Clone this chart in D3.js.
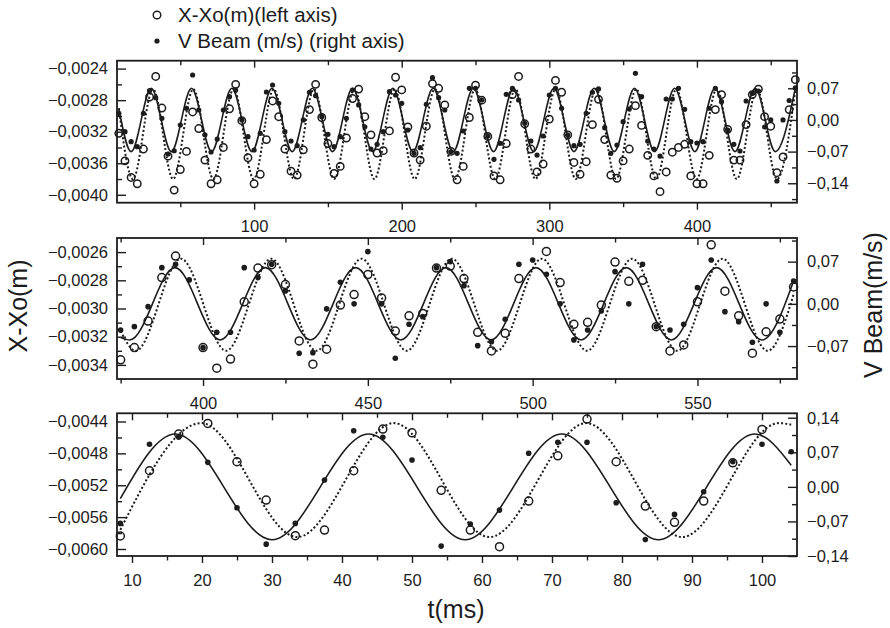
<!DOCTYPE html>
<html>
<head>
<meta charset="utf-8">
<script src="https://cdn.jsdelivr.net/npm/d3@7"></script>
<style>
  body { margin: 0; background: #fff; }
  svg { display: block; font-family: "Liberation Sans", Arial, sans-serif; }
</style>
</head>
<body>
<svg id="chart" width="890" height="628"></svg>
<script>
// ---- top panel (t = 8..467 ms) ----
const topT = [8.33, 12.5, 16.67, 20.83, 25, 29.17, 33.33, 37.5, 41.67, 45.83,
  50, 54.17, 58.33, 62.5, 66.67, 70.83, 75, 79.17, 83.33, 87.5,
  91.67, 95.83, 100, 104.17, 108.33, 112.5, 116.67, 120.83, 125, 129.17,
  133.33, 137.5, 141.67, 145.83, 150, 154.17, 158.33, 162.5, 166.67, 170.83,
  175, 179.17, 183.33, 187.5, 191.67, 195.83, 200, 204.17, 208.33, 212.5,
  216.67, 220.83, 225, 229.17, 233.33, 237.5, 241.67, 245.83, 250, 254.17,
  258.33, 262.5, 266.67, 270.83, 275, 279.17, 283.33, 287.5, 291.67, 295.83,
  300, 304.17, 308.33, 312.5, 316.67, 320.83, 325, 329.17, 333.33, 337.5,
  341.67, 345.83, 350, 354.17, 358.33, 362.5, 366.67, 370.83, 375, 379.17,
  383.33, 387.5, 391.67, 395.83, 400, 404.17, 408.33, 412.5, 416.67, 420.83,
  425, 429.17, 433.33, 437.5, 441.67, 445.83, 450, 454.17, 458.33, 462.5,
  466.67];
const topXo = [-0.00322, -0.00357, -0.00378, -0.00386, -0.00342, -0.00276, -0.00250, -0.00290, -0.00351, -0.00394,
  -0.00368, -0.00345, -0.00295, -0.00316, -0.00356, -0.00386, -0.00381, -0.00340, -0.00291, -0.00260,
  -0.00306, -0.00353, -0.00386, -0.00374, -0.00330, -0.00281, -0.00301, -0.00342, -0.00370, -0.00375,
  -0.00343, -0.00292, -0.00260, -0.00302, -0.00335, -0.00373, -0.00364, -0.00328, -0.00278, -0.00266,
  -0.00301, -0.00324, -0.00347, -0.00344, -0.00319, -0.00251, -0.00267, -0.00314, -0.00347, -0.00356,
  -0.00313, -0.00259, -0.00265, -0.00286, -0.00345, -0.00381, -0.00364, -0.00302, -0.00261, -0.00280,
  -0.00326, -0.00376, -0.00381, -0.00335, -0.00273, -0.00250, -0.00310, -0.00342, -0.00371, -0.00361,
  -0.00304, -0.00255, -0.00270, -0.00324, -0.00359, -0.00374, -0.00358, -0.00311, -0.00279, -0.00330,
  -0.00375, -0.00379, -0.00357, -0.00342, -0.00287, -0.00312, -0.00350, -0.00376, -0.00396, -0.00371,
  -0.00346, -0.00340, -0.00336, -0.00376, -0.00386, -0.00386, -0.00350, -0.00292, -0.00273, -0.00317,
  -0.00356, -0.00356, -0.00311, -0.00273, -0.00266, -0.00301, -0.00313, -0.00372, -0.00352, -0.00292,
  -0.00254];
const topV = [0.0147, -0.0260, -0.0481, -0.0592, 0.0147, 0.0647, 0.0492, 0.0036, -0.0754, -0.0681,
  -0.0112, 0.0258, 0.0994, 0.0220, -0.0327, -0.0709, -0.0422, 0.0220, 0.0514, 0.0662,
  0.0000, -0.0371, -0.0665, -0.0296, 0.0618, 0.0773, 0.0368, -0.0260, -0.0466, -0.0570,
  0.0000, 0.0612, 0.0536, 0.0072, -0.0318, -0.0592, -0.0371, 0.0036, 0.0662, 0.0331,
  -0.0150, -0.0643, -0.0539, -0.0260, 0.0625, 0.0552, 0.0368, -0.0223, -0.0738, -0.0614,
  0.0346, 0.0935, 0.0492, 0.0220, -0.0703, -0.0738, -0.0245, 0.0700, 0.0700, 0.0441,
  -0.0355, -0.0871, -0.0517, 0.0567, 0.0700, 0.0441, -0.0074, -0.0466, -0.0776, -0.0355,
  0.0552, 0.0700, 0.0258, -0.0333, -0.0570, -0.0539, 0.0147, 0.0612, 0.0685, -0.0172,
  -0.0738, -0.0554, -0.0039, 0.0242, 0.1032, 0.0514, -0.0466, -0.0643, -0.0798, 0.0463,
  0.0463, 0.0700, 0.0235, -0.0481, -0.0510, -0.0481, 0.0258, 0.0700, 0.0404, -0.0223,
  -0.0539, -0.0687, 0.0419, 0.0585, 0.0640, -0.0156, 0.0000, -0.1350, 0.0000, 0.0430,
  0.0707];
// fitted curves, read at their ends and turning points
const topFitVT = [8.33, 16.7, 30.3, 43.9, 57.6, 71.2, 84.9, 98.5, 112.1, 125.8, 139.4, 153.1,
  166.7, 180.3, 194.0, 207.6, 221.3, 234.9, 248.5, 262.2, 275.8, 289.4, 303.1, 316.7,
  330.4, 344.0, 357.7, 371.3, 384.9, 398.6, 412.2, 425.8, 439.5, 453.1, 466.67];
const topFitV = [0.025, -0.07, 0.07, -0.07, 0.07, -0.07, 0.07, -0.07, 0.07, -0.07, 0.07, -0.07,
  0.07, -0.07, 0.07, -0.07, 0.07, -0.07, 0.07, -0.07, 0.07, -0.07, 0.07, -0.07,
  0.07, -0.07, 0.07, -0.07, 0.07, -0.07, 0.07, -0.07, 0.07, -0.07, 0.07];
const topFitXoT = [8.33, 17.9, 31.5, 45.1, 58.8, 72.4, 86.1, 99.7, 113.3, 127.0, 140.6, 154.3,
  167.9, 181.5, 195.2, 208.8, 222.5, 236.1, 249.7, 263.4, 277.0, 290.6, 304.3, 317.9,
  331.6, 345.2, 358.9, 372.5, 386.1, 399.8, 413.4, 427.0, 440.7, 454.3, 466.67];
const topFitXo = [-0.00290, -0.00380, -0.00266, -0.00380, -0.00266, -0.00380, -0.00266, -0.00380, -0.00266, -0.00380, -0.00266, -0.00380,
  -0.00266, -0.00380, -0.00266, -0.00380, -0.00266, -0.00380, -0.00266, -0.00380, -0.00266, -0.00380, -0.00266, -0.00380,
  -0.00266, -0.00380, -0.00266, -0.00380, -0.00266, -0.00380, -0.00266, -0.00380, -0.00266, -0.00380, -0.00267];

// ---- middle panel (t = 375..579 ms) ----
const midT = [375, 379.17, 383.33, 387.5, 391.67, 395.83, 400, 404.17, 408.33, 412.5,
  416.67, 420.83, 425, 429.17, 433.33, 437.5, 441.67, 445.83, 450, 454.17,
  458.33, 462.5, 466.67, 470.83, 475, 479.17, 483.33, 487.5, 491.67, 495.83,
  500, 504.17, 508.33, 512.5, 516.67, 520.83, 525, 529.17, 533.33, 537.5,
  541.67, 545.83, 550, 554.17, 558.33, 562.5, 566.67, 570.83, 575, 579.17];
const midXo = [-0.003364, -0.003277, -0.003089, -0.002781, -0.002628, null, -0.003277, -0.003423, -0.003359, -0.002953,
  -0.002713, -0.002689, -0.002830, -0.003230, -0.003395, -0.003289, -0.002976, -0.002901, -0.002759, -0.002925,
  -0.003160, -0.003052, -0.003035, -0.002713, -0.002699, -0.002788, -0.003169, -0.003301, -0.003176, -0.002788,
  null, -0.002595, -0.002816, -0.003112, -0.003098, -0.002976, -0.002671, -0.002807, -0.002800, -0.003129,
  -0.003301, -0.003258, -0.002953, -0.002548, -0.002877, -0.003052, -0.003317, -0.003165, -0.003075, -0.002847];
const midV = [-0.0433, -0.0378, -0.0046, 0.0600, 0.0657, 0.0397, -0.0726, -0.0471, -0.0471, 0.0600,
  0.0435, 0.0657, 0.0214, -0.0819, -0.0809, -0.0084, 0.0358, 0.0000, 0.0866, 0.0000,
  -0.0902, -0.0338, -0.0212, 0.0600, 0.0700, 0.0302, -0.0693, -0.0627, -0.0255, 0.0657,
  0.0728, 0.0491, 0.0000, -0.0598, -0.0433, -0.0118, 0.0534, 0.0000, 0.0657, -0.0378,
  -0.0433, -0.0338, 0.0269, 0.0728, -0.0129, -0.0295, -0.0637, 0.0000, -0.0471, 0.0380];
const midFitVT = [375, 377.8, 391.5, 405.2, 418.9, 432.6, 446.3, 460.0, 473.7, 487.4, 501.0, 514.7, 528.4, 542.1, 555.8, 569.5, 579.17];
const midFitV = [-0.056, -0.06, 0.06, -0.06, 0.06, -0.06, 0.06, -0.06, 0.06, -0.06, 0.06, -0.06, 0.06, -0.06, 0.06, -0.06, 0.038];
const midFitXoT = [375, 379.6, 393.3, 407.0, 420.7, 434.4, 448.1, 461.8, 475.5, 489.2, 502.8, 516.5, 530.2, 543.9, 557.6, 571.3, 579.17];
const midFitXo = [-0.00316, -0.00330, -0.002647, -0.00330, -0.002647, -0.00330, -0.002647, -0.00330, -0.002647,
  -0.00330, -0.002647, -0.00330, -0.002647, -0.00330, -0.002647, -0.00330, -0.00290];

// ---- bottom panel (t = 8..104 ms) ----
const botT = [8.33, 12.5, 16.67, 20.83, 25, 29.17, 33.33, 37.5, 41.67, 45.83, 50, 54.17,
  58.33, 62.5, 66.67, 70.83, 75, 79.17, 83.33, 87.5, 91.67, 95.83, 100, 104.17];
const botXo = [-0.005837, -0.005018, -0.004558, -0.004424, -0.004905, -0.005386, -0.005833, -0.005762, -0.005018, -0.004495, -0.004542, -0.005264,
  -0.005762, -0.005971, -0.005398, -0.004830, -0.004370, -0.004905, -0.005461, -0.005665, -0.005398, -0.004918, -0.004499, null];
const botV = [-0.0740, 0.0862, 0.1004, 0.0497, -0.0424, -0.1160, -0.0740, 0.0138, 0.1138, 0.1004, 0.0544, -0.1200,
  -0.0754, -0.0470, 0.0680, 0.0903, 0.0903, -0.0322, -0.1065, -0.0558, -0.0099, 0.0509, 0.0862, 0.0712];
const botFitVT = [8.33, 16.2, 30.0, 43.8, 57.6, 71.4, 85.2, 99.0, 104.17];
const botFitV = [-0.024, 0.107, -0.107, 0.107, -0.107, 0.107, -0.107, 0.107, 0.044];
const botFitXoT = [8.33, 19.9, 33.6, 47.4, 61.1, 74.9, 88.6, 102.4, 104.17];
const botFitXo = [-0.00576, -0.00442, -0.00585, -0.00442, -0.00585, -0.00442, -0.00585, -0.00442, -0.00444];

// ---- tick values ----
const topXMajor = [100, 200, 300, 400], topXMinor = [50, 150, 250, 350, 450];
const midXMajor = [400, 450, 500, 550], midXMinor = [375, 425, 475, 525, 575];
const botXMajor = [10, 20, 30, 40, 50, 60, 70, 80, 90, 100], botXMinor = [15, 25, 35, 45, 55, 65, 75, 85, 95];
const topLMajor = [-0.0024, -0.0028, -0.0032, -0.0036, -0.0040], topLMinor = [-0.0026, -0.0030, -0.0034, -0.0038];
const midLMajor = [-0.0026, -0.0028, -0.0030, -0.0032, -0.0034], midLMinor = [-0.0027, -0.0029, -0.0031, -0.0033];
const botLMajor = [-0.0044, -0.0048, -0.0052, -0.0056, -0.0060], botLMinor = [-0.0046, -0.0050, -0.0054, -0.0058];
const topRMajor = [0.07, 0, -0.07, -0.14], topRMinor = [0.105, 0.035, -0.035, -0.105, -0.175];
const midRMajor = [0.07, 0, -0.07], midRMinor = [0.105, 0.035, -0.035, -0.105];
const botRMajor = [0.14, 0.07, 0, -0.07, -0.14], botRMinor = [0.105, 0.035, -0.035, -0.105];

const locale = d3.formatLocale({ decimal: ",", thousands: ".", grouping: [3], currency: ["", ""] });
const fmtL = locale.format(".4f"), fmtR = locale.format(".2f"), fmtX = locale.format("d");

const ink = "#1c1c1c";
const left = 117, right = 797;

const panels = [
  { top: 60.7, height: 142, x: [7.1, 467.8], yL: [-0.0041, -0.0023], yR: [-0.183, 0.131],
    t: topT, xo: topXo, v: topV, fitVT: topFitVT, fitV: topFitV, fitXoT: topFitXoT, fitXo: topFitXo,
    xMajor: topXMajor, xMinor: topXMinor, lMajor: topLMajor, lMinor: topLMinor, rMajor: topRMajor, rMinor: topRMinor,
    r: 3.7, dotR: 2.6 },
  { top: 238, height: 141, x: [373.9, 580.2], yL: [-0.0035, -0.0025], yR: [-0.1246, 0.1092],
    t: midT, xo: midXo, v: midV, fitVT: midFitVT, fitV: midFitV, fitXoT: midFitXoT, fitXo: midFitXo,
    xMajor: midXMajor, xMinor: midXMinor, lMajor: midLMajor, lMinor: midLMinor, rMajor: midRMajor, rMinor: midRMinor,
    r: 4, dotR: 2.8 },
  { top: 413.3, height: 142.7, x: [7.857, 105], yL: [-0.006088, -0.004297], yR: [-0.14, 0.149],
    t: botT, xo: botXo, v: botV, fitVT: botFitVT, fitV: botFitV, fitXoT: botFitXoT, fitXo: botFitXo,
    xMajor: botXMajor, xMinor: botXMinor, lMajor: botLMajor, lMinor: botLMinor, rMajor: botRMajor, rMinor: botRMinor,
    r: 4, dotR: 2.8 },
];

const svg = d3.select("#chart");

function drawPanel(p) {
  const w = right - left, h = p.height;
  const g = svg.append("g").attr("transform", `translate(${left},${p.top})`);
  const x = d3.scaleLinear().domain(p.x).range([0, w]);
  const yL = d3.scaleLinear().domain(p.yL).range([h, 0]);
  const yR = d3.scaleLinear().domain(p.yR).range([h, 0]);

  const axes = [
    [d3.axisBottom(x).tickValues(p.xMajor).tickSize(7).tickPadding(10.8).tickFormat(fmtX), `translate(0,${h})`],
    [d3.axisBottom(x).tickValues(p.xMinor).tickSize(4.5).tickFormat(""), `translate(0,${h})`],
    [d3.axisTop(x).tickValues(p.xMajor).tickSize(-7).tickFormat(""), null],
    [d3.axisTop(x).tickValues(p.xMinor).tickSize(-4.5).tickFormat(""), null],
    [d3.axisLeft(yL).tickValues(p.lMajor).tickSize(-9).tickPadding(9).tickFormat(fmtL), null],
    [d3.axisLeft(yL).tickValues(p.lMinor).tickSize(-5).tickFormat(""), null],
    [d3.axisRight(yR).tickValues(p.rMajor).tickSize(-9).tickPadding(10).tickFormat(fmtR), `translate(${w},0)`],
    [d3.axisRight(yR).tickValues(p.rMinor).tickSize(-5).tickFormat(""), `translate(${w},0)`],
  ];
  axes.forEach(([axis, tr]) => {
    const a = g.append("g").call(axis.tickSizeOuter(0));
    if (tr) a.attr("transform", tr);
    a.select(".domain").remove();
    a.selectAll(".tick line").attr("stroke", ink).attr("stroke-width", 1.4);
    a.selectAll(".tick text").attr("fill", ink).style("font-size", "16.5px");
  });

  g.append("rect")
    .attr("width", w).attr("height", h)
    .attr("fill", "none").attr("stroke", ink).attr("stroke-width", 1.8);

  const lineV = d3.line().curve(d3.curveMonotoneX)
    .x((d, i) => x(p.fitVT[i])).y((d) => yR(d));
  const lineXo = d3.line().curve(d3.curveMonotoneX)
    .x((d, i) => x(p.fitXoT[i])).y((d) => yL(d));

  g.append("path").datum(p.fitV)
    .attr("fill", "none").attr("stroke", ink).attr("stroke-width", 1.6)
    .attr("d", lineV);
  g.append("path").datum(p.fitXo)
    .attr("fill", "none").attr("stroke", ink).attr("stroke-width", 2)
    .attr("stroke-dasharray", "2,2.2")
    .attr("d", lineXo);

  const circ = p.t.map((t, i) => ({ t, y: p.xo[i] })).filter((d) => d.y !== null);
  g.selectAll("circle.xo")
    .data(circ)
    .join("circle")
    .attr("class", "xo")
    .attr("cx", (d) => x(d.t))
    .attr("cy", (d) => yL(d.y))
    .attr("r", p.r)
    .attr("fill", "none")
    .attr("stroke", ink)
    .attr("stroke-width", 1.5);

  g.selectAll("circle.v")
    .data(p.t.map((t, i) => ({ t, y: p.v[i] })))
    .join("circle")
    .attr("class", "v")
    .attr("cx", (d) => x(d.t))
    .attr("cy", (d) => yR(d.y))
    .attr("r", p.dotR)
    .attr("fill", ink);
}

panels.forEach(drawPanel);

// axis titles
svg.append("text")
  .attr("transform", "translate(27,306) rotate(-90)")
  .attr("text-anchor", "middle").attr("fill", ink).style("font-size", "25px")
  .text("X-Xo(m)");
svg.append("text")
  .attr("transform", "translate(882,305) rotate(-90)")
  .attr("text-anchor", "middle").attr("fill", ink).style("font-size", "25px")
  .text("V Beam(m/s)");
svg.append("text")
  .attr("x", 456).attr("y", 618)
  .attr("text-anchor", "middle").attr("fill", ink).style("font-size", "25px")
  .text("t(ms)");

// legend
const legend = svg.append("g");
legend.append("circle").attr("cx", 157).attr("cy", 15).attr("r", 3.8)
  .attr("fill", "none").attr("stroke", ink).attr("stroke-width", 1.4);
legend.append("text").attr("x", 178).attr("y", 22).attr("fill", ink).style("font-size", "20.5px")
  .text("X-Xo(m)(left axis)");
legend.append("circle").attr("cx", 157).attr("cy", 41).attr("r", 2.6).attr("fill", ink);
legend.append("text").attr("x", 178).attr("y", 48).attr("fill", ink).style("font-size", "20.5px")
  .text("V Beam (m/s) (right axis)");
</script>
</body>
</html>
